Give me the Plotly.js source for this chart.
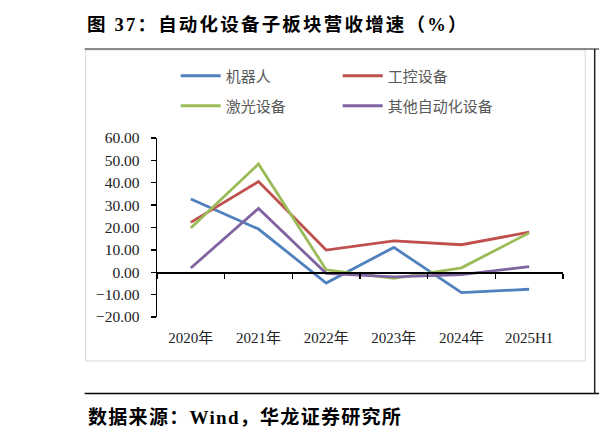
<!DOCTYPE html>
<html>
<head>
<meta charset="utf-8">
<script src="https://cdn.plot.ly/plotly-3.0.1.min.js"></script>
<style>
html,body{margin:0;padding:0;background:#fff;}
#chart{width:599px;height:442px;}
.gtitle{letter-spacing:2.2px;}
</style>
</head>
<body>
<div id="chart"></div>
<script>
// ---- data ----
const categories = ['2020年', '2021年', '2022年', '2023年', '2024年', '2025H1'];
const robot = [32.7, 19.3, -4.8, 11.1, -9.1, -7.6];
const industrialControl = [22.3, 40.5, 9.9, 14.0, 12.3, 17.9];
const laser = [19.8, 48.4, 1.1, -2.7, 2.0, 17.6];
const otherAutomation = [1.9, 28.5, -0.5, -2.1, -1.1, 2.5];
const seriesNames = ['机器人', '工控设备', '激光设备', '其他自动化设备'];
const yTickValues = [-20, -10, 0, 10, 20, 30, 40, 50, 60];

// ---- layout geometry (pixels) ----
const W = 599, H = 442;
const L = 157.3, T = 138, PW = 406, PH = 179;
const yMin = -20, yMax = 60;
const px = v => (v - L) / PW;
const py = v => (T + PH - v) / PH;

const colors = ['#4F81BD', '#C0504D', '#9BBB59', '#8064A2'];
const seriesData = [robot, industrialControl, laser, otherAutomation];
const legendIds = ['legend', 'legend', 'legend2', 'legend2'];

const traces = seriesData.map((vals, i) => ({
  type: 'scatter', mode: 'lines',
  x: categories, y: vals,
  name: seriesNames[i],
  line: {color: colors[i], width: 2.8},
  legend: legendIds[i],
  hoverinfo: 'skip'
}));
// carrier trace for the zero-line axis
traces.push({type: 'scatter', mode: 'lines', x: categories, y: categories.map(() => null),
  xaxis: 'x2', showlegend: false, hoverinfo: 'skip'});

const serif = 'Liberation Serif, "Times New Roman", "Noto Sans CJK SC", serif';
const cjk = '"Liberation Serif", "Noto Sans CJK SC", sans-serif';

const legendCommon = {
  orientation: 'h', xanchor: 'left', yanchor: 'middle',
  entrywidth: 107, entrywidthmode: 'pixels',
  font: {family: cjk, size: 15, color: '#595959'},
  bgcolor: 'rgba(0,0,0,0)', itemwidth: 40,
  traceorder: 'normal'
};

const layout = {
  width: W, height: H,
  margin: {l: L, r: W - L - PW, t: T, b: H - T - PH, pad: 0},
  paper_bgcolor: '#fff', plot_bgcolor: 'rgba(0,0,0,0)',
  showlegend: true,
  title: {
    text: '<b>图 37：自动化设备子板块营收增速（%）</b>',
    x: 87 / W, xref: 'container', xanchor: 'left',
    y: 1 - 25 / H, yref: 'container', yanchor: 'middle',
    font: {family: cjk, size: 18.5, color: '#000'}
  },
  xaxis: {
    type: 'category', range: [-0.5, categories.length - 0.5],
    showline: false, ticks: '', showgrid: false, zeroline: false,
    tickfont: {family: cjk, size: 15, color: '#222'},
    ticklabelstandoff: 10, fixedrange: true
  },
  xaxis2: {
    overlaying: 'x', matches: 'x', anchor: 'free',
    position: (0 - yMin) / (yMax - yMin),
    showline: true, linecolor: '#000', linewidth: 1.3,
    ticks: 'outside', tickson: 'boundaries', ticklen: 5, tickwidth: 1.3, tickcolor: '#000',
    showticklabels: false, showgrid: false, zeroline: false
  },
  yaxis: {
    range: [yMin, yMax], tickvals: yTickValues, tickformat: '.2f',
    showline: true, linecolor: '#000', linewidth: 1.3,
    ticks: 'outside', ticklen: 5, tickwidth: 1.3, tickcolor: '#000',
    showgrid: false, zeroline: false,
    tickfont: {family: serif, size: 15.5, color: '#222'},
    ticklabelstandoff: 8, fixedrange: true
  },
  legend: Object.assign({}, legendCommon, {x: px(176), y: py(76)}),
  legend2: Object.assign({}, legendCommon, {x: px(176), y: py(106)}),
  shapes: [
    {type: 'rect', xref: 'paper', yref: 'paper', x0: px(86), x1: px(585.5), y0: py(361), y1: py(50),
      line: {color: '#d9d9d9', width: 1}, fillcolor: 'rgba(0,0,0,0)', layer: 'below'},
    {type: 'line', xref: 'paper', yref: 'paper', x0: px(85), x1: px(600), y0: py(49), y1: py(49),
      line: {color: '#666', width: 1.5}},
    {type: 'line', xref: 'paper', yref: 'paper', x0: px(85), x1: px(600), y0: py(393.5), y1: py(393.5),
      line: {color: '#000', width: 1.5}},
    {type: 'line', xref: 'paper', yref: 'paper', x0: px(595), x1: px(595), y0: py(49), y1: py(393.5),
      line: {color: '#222', width: 1.5}}
  ],
  annotations: [
    {text: '<b>数据来源：Wind，华龙证券研究所</b>', xref: 'paper', yref: 'paper',
      x: px(86), y: py(417), xanchor: 'left', yanchor: 'middle', showarrow: false,
      font: {family: cjk, size: 19, color: '#000'}}
  ]
};

Plotly.newPlot('chart', traces, layout, {staticPlot: true, displayModeBar: false}).then(() => {
  document.querySelectorAll('.annotation-text').forEach(e => {
    e.style.letterSpacing = '1.3px';
    const r = e.getBoundingClientRect();
    const shift = 88 - r.left;
    e.setAttribute('x', (parseFloat(e.getAttribute('x')) || 0) + shift);
  });
});
</script>
</body>
</html>
